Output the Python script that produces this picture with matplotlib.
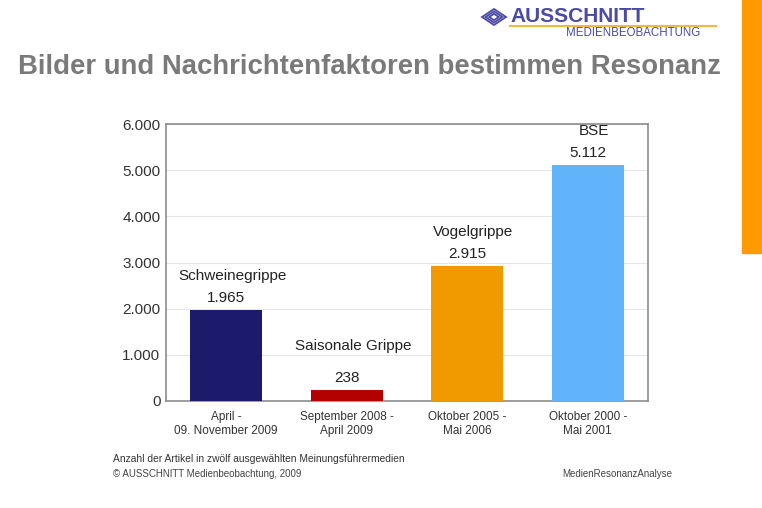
import matplotlib
matplotlib.use("Agg")
import matplotlib.pyplot as plt
from matplotlib.patches import Rectangle, Polygon
from matplotlib.lines import Line2D

plt.rcParams["font.family"] = ["Liberation Sans", "DejaVu Sans"]

# Data
topics = ["Schweinegrippe", "Saisonale Grippe", "Vogelgrippe", "BSE"]
periods = ["April -\n09. November 2009", "September 2008 -\nApril 2009",
           "Oktober 2005 -\nMai 2006", "Oktober 2000 -\nMai 2001"]
articles = [1965, 238, 2915, 5112]
bar_colors = ["#1c1a6b", "#b30000", "#f09a00", "#61b3fa"]
yticks = [0, 1000, 2000, 3000, 4000, 5000, 6000]

W, H = 762, 508
fig = plt.figure(figsize=(W / 100, H / 100), dpi=100)


def fx(px):
    return px / W


def fy(py):
    return 1 - py / H


# orange stripe on the right edge
fig.patches.append(Rectangle((fx(742), fy(253)), fx(20), 253 / H,
                             transform=fig.transFigure, color="#ff9a00", zorder=0))

# logo
fig.text(fx(510), fy(17), "AUSSCHNITT", color="#4b4aa6", fontsize=15,
         fontweight="bold", va="center", ha="left")
fig.add_artist(Line2D([fx(510), fx(716)], [fy(26), fy(26)], color="#f5b642", lw=1.5))
fig.text(fx(700), fy(33), "MEDIENBEOBACHTUNG", color="#4b4aa6", fontsize=8.3,
         va="center", ha="right")
for s in [1.0, 0.7, 0.4]:
    cx, cy = 494, 17
    pts = [(fx(cx - 12 * s), fy(cy)), (fx(cx), fy(cy - 8 * s)),
           (fx(cx + 12 * s), fy(cy)), (fx(cx), fy(cy + 8 * s))]
    fig.patches.append(Polygon(pts, closed=True, fill=False, edgecolor="#4b4aa6",
                               lw=1.3, transform=fig.transFigure))

# title
fig.text(fx(18), fy(67), "Bilder und Nachrichtenfaktoren bestimmen Resonanz",
         color="#7a7a7a", fontsize=19.8, fontweight="bold", va="center", ha="left")

ax = fig.add_axes([fx(166), fy(401), fx(648) - fx(166), fy(124) - fy(401)])
x = list(range(len(topics)))
ax.bar(x, articles, width=0.6, color=bar_colors, zorder=3)
ax.set_xlim(-0.5, 3.5)
ax.set_ylim(0, 6000)
ax.set_yticks(yticks)
ax.set_yticklabels([f"{v:,}".replace(",", ".") for v in yticks], fontsize=11, color="#333333")
ax.set_xticks(x)
ax.set_xticklabels(periods, fontsize=8.5, color="#333333", linespacing=1.25)
ax.tick_params(length=0, pad=4)
ax.tick_params(axis="x", pad=7)
ax.grid(axis="y", color="#e6e6e6", lw=0.8, zorder=0)
for sp in ax.spines.values():
    sp.set_color("#8c8c8c")
    sp.set_linewidth(1.2)

for i, v in enumerate(articles):
    ax.text(i, v + 260, f"{v:,}".replace(",", "."), ha="center", va="center",
            fontsize=11, color="#222222")
    off = 950 if v < 500 else 740
    ax.text(i + 0.05, v + off, topics[i], ha="center", va="center",
            fontsize=11, color="#222222")

# footer
fig.text(fx(113), fy(459), "Anzahl der Artikel in zwölf ausgewählten Meinungsführermedien",
         fontsize=7.4, color="#333333", va="center", ha="left")
fig.text(fx(113), fy(474), "© AUSSCHNITT Medienbeobachtung, 2009",
         fontsize=7, color="#444444", va="center", ha="left")
fig.text(fx(672), fy(474), "MedienResonanzAnalyse",
         fontsize=7, color="#444444", va="center", ha="right")

fig.savefig("out.png", dpi=100)
